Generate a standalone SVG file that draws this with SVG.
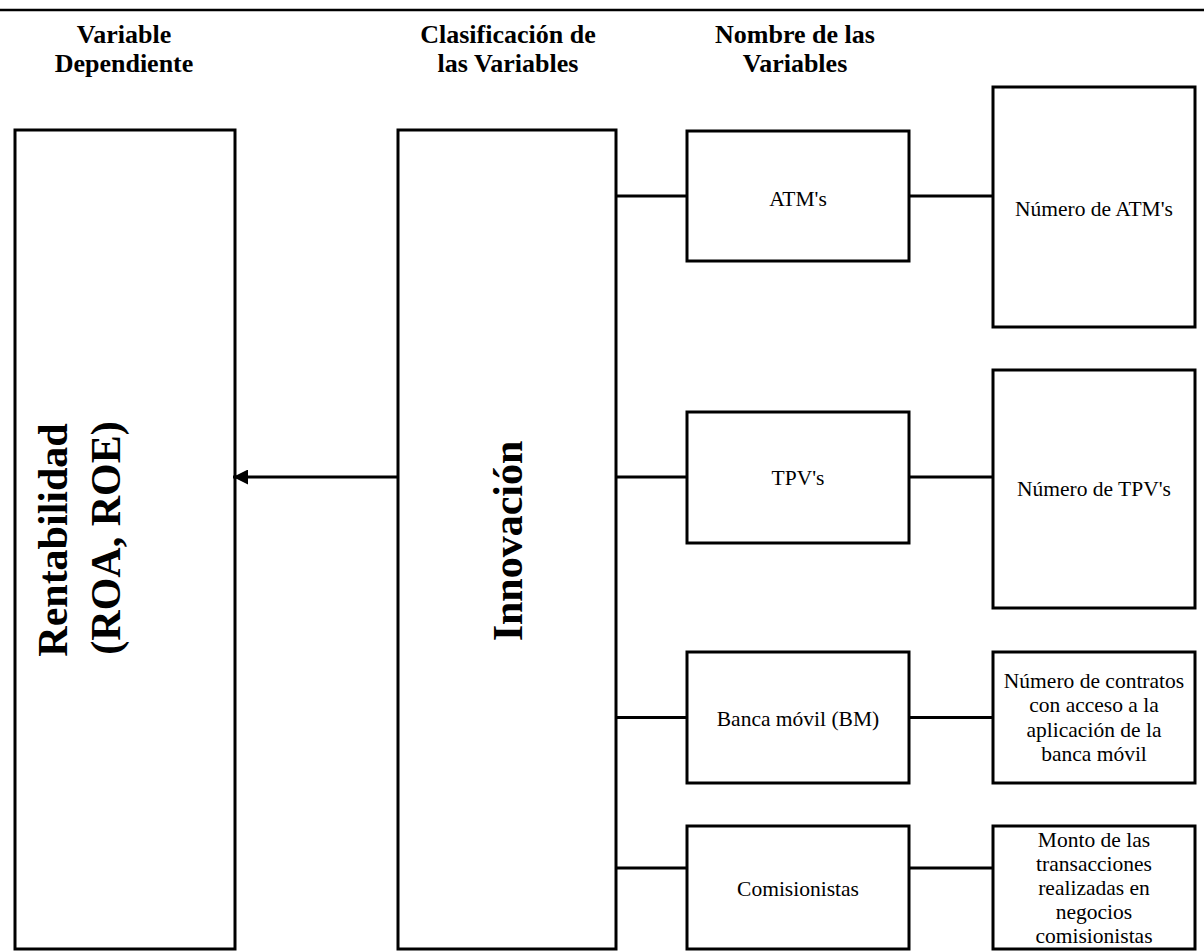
<svg xmlns="http://www.w3.org/2000/svg" width="1204" height="951" viewBox="0 0 1204 951">
<style>
  .box { fill: #ffffff; stroke: #000000; stroke-width: 3; }
  .conn { stroke: #000000; stroke-width: 3; fill: none; }
  .hdr { font-family: "Liberation Serif", "Times New Roman", serif; font-weight: bold; font-size: 26px; fill: #000; text-anchor: middle; }
  .big { font-family: "Liberation Serif", "Times New Roman", serif; font-weight: bold; font-size: 42px; fill: #000; text-anchor: middle; }
  .lbl { font-family: "Liberation Serif", "Times New Roman", serif; font-size: 21.5px; fill: #000; text-anchor: middle; }
</style>
<defs>
  <marker id="arrow" markerUnits="userSpaceOnUse" markerWidth="15" markerHeight="15" viewBox="0 0 15 15" refX="15" refY="7.5" orient="auto">
    <path d="M0,0 L15,7.5 L0,15 z" fill="#000"/>
  </marker>
</defs>
<rect x="0" y="0" width="1204" height="951" fill="#ffffff"/>
<line x1="0" y1="10" x2="1204" y2="10" stroke="#000" stroke-width="2.5"/>

<g id="headers">
  <text class="hdr" x="124" y="43">Variable</text>
  <text class="hdr" x="124" y="72">Dependiente</text>
  <text class="hdr" x="508" y="43">Clasificación de</text>
  <text class="hdr" x="508" y="72">las Variables</text>
  <text class="hdr" x="795" y="43">Nombre de las</text>
  <text class="hdr" x="795" y="72">Variables</text>
</g>

<g id="rentabilidad">
  <rect class="box" x="15" y="130" width="220" height="819"/>
  <text class="big" transform="translate(67,540) rotate(-90)">Rentabilidad</text>
  <text class="big" transform="translate(120,538) rotate(-90)">(ROA, ROE)</text>
</g>

<g id="innovacion">
  <rect class="box" x="398" y="130" width="218" height="819"/>
  <text class="big" transform="translate(522,541) rotate(-90)">Innovación</text>
</g>

<g id="atms">
  <rect class="box" x="687" y="131" width="222" height="130"/>
  <text class="lbl" x="798" y="206">ATM's</text>
</g>
<g id="num-atms">
  <rect class="box" x="993" y="87" width="202" height="240"/>
  <text class="lbl" x="1094" y="216">Número de ATM's</text>
</g>

<g id="tpvs">
  <rect class="box" x="687" y="412" width="222" height="131"/>
  <text class="lbl" x="798" y="485">TPV's</text>
</g>
<g id="num-tpvs">
  <rect class="box" x="993" y="370" width="202" height="238"/>
  <text class="lbl" x="1094" y="496">Número de TPV's</text>
</g>

<g id="banca">
  <rect class="box" x="687" y="652" width="222" height="131"/>
  <text class="lbl" x="798" y="726">Banca móvil (BM)</text>
</g>
<g id="num-contratos">
  <rect class="box" x="993" y="652" width="202" height="131"/>
  <text class="lbl" x="1094" y="688">Número de contratos</text>
  <text class="lbl" x="1094" y="712">con acceso a la</text>
  <text class="lbl" x="1094" y="736.5">aplicación de la</text>
  <text class="lbl" x="1094" y="761">banca móvil</text>
</g>

<g id="comisionistas">
  <rect class="box" x="687" y="826" width="222" height="123"/>
  <text class="lbl" x="798" y="896">Comisionistas</text>
</g>
<g id="monto">
  <rect class="box" x="993" y="826" width="202" height="123"/>
  <text class="lbl" x="1094" y="846.5">Monto de las</text>
  <text class="lbl" x="1094" y="870.5">transacciones</text>
  <text class="lbl" x="1094" y="895">realizadas en</text>
  <text class="lbl" x="1094" y="919">negocios</text>
  <text class="lbl" x="1094" y="943">comisionistas</text>
</g>

<g id="connectors">
  <line class="conn" x1="398" y1="477" x2="233" y2="477" marker-end="url(#arrow)"/>
  <line class="conn" x1="616" y1="196" x2="687" y2="196"/>
  <line class="conn" x1="616" y1="477" x2="687" y2="477"/>
  <line class="conn" x1="616" y1="717.5" x2="687" y2="717.5"/>
  <line class="conn" x1="616" y1="868" x2="687" y2="868"/>
  <line class="conn" x1="909" y1="196" x2="993" y2="196"/>
  <line class="conn" x1="909" y1="477" x2="993" y2="477"/>
  <line class="conn" x1="909" y1="717.5" x2="993" y2="717.5"/>
  <line class="conn" x1="909" y1="868" x2="993" y2="868"/>
</g>
</svg>
